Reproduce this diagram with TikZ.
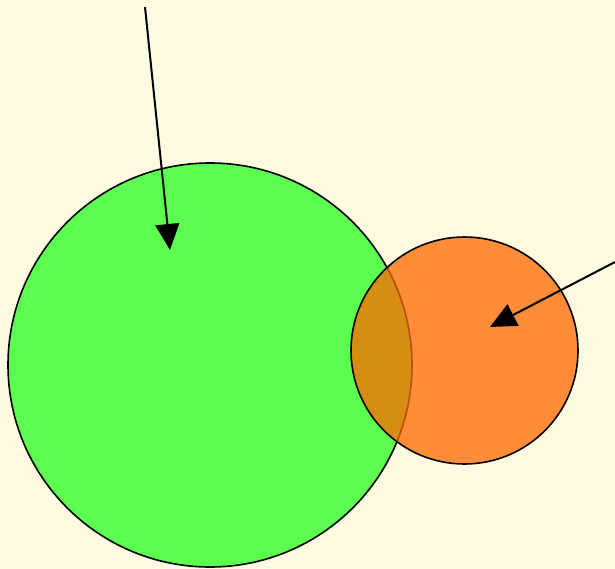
\documentclass[tikz,border=0pt]{standalone}
\usetikzlibrary{arrows.meta}
\definecolor{bg}{RGB}{255,251,224}
\definecolor{grn}{RGB}{92,255,80}
\definecolor{org}{RGB}{255,103,0}
\begin{document}
\begin{tikzpicture}[x=1pt,y=-1pt,
  disc/.style={circle,draw=black,line width=1.6pt,inner sep=0pt},
  pointer/.style={line width=2pt,-{Triangle[length=26pt,width=24pt]}}]
\fill[bg] (0,0) rectangle (615,569);
\useasboundingbox (0,0) rectangle (615,569);
\node[disc,fill=grn,minimum size=404pt] (g) at (210,365) {};
\node[disc,fill=org,fill opacity=0.75,minimum size=227pt] (o) at (464.5,350.5) {};
\coordinate (s1) at (145,7);
\coordinate (t1) at (170,250);
\coordinate (s2) at (615,262);
\coordinate (t2) at (490,327);
\draw[pointer] (s1) -- (t1);
\draw[pointer] (s2) -- (t2);
\end{tikzpicture}
\end{document}
